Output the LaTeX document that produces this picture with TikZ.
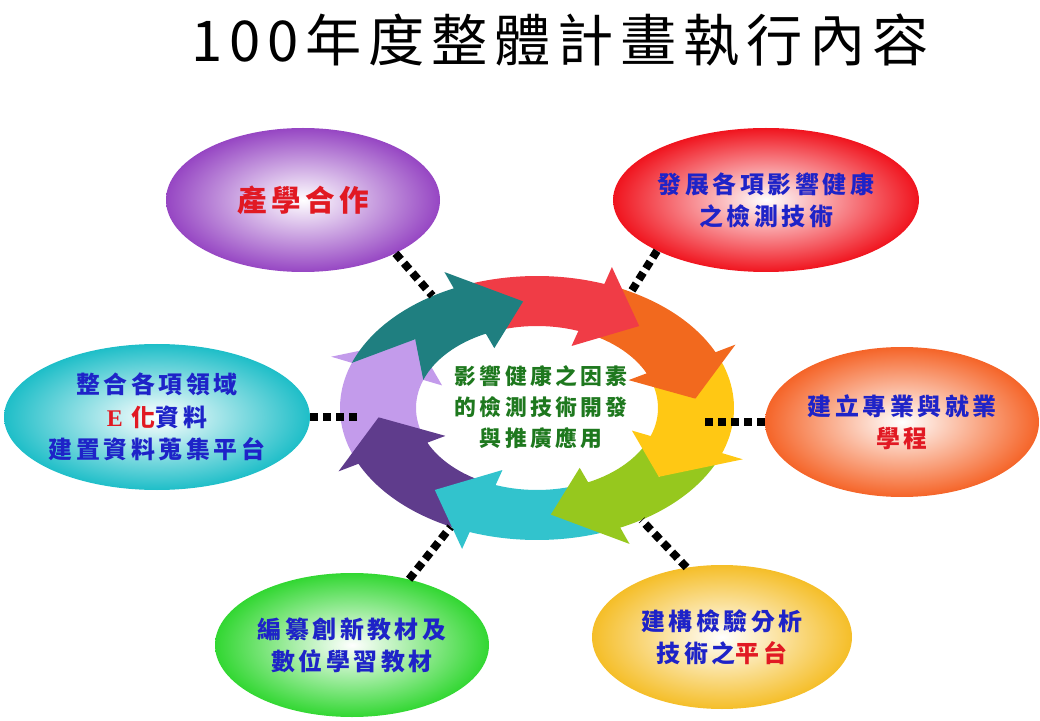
\documentclass[tikz,border=0pt]{standalone}
\usepackage{fontspec}
\usetikzlibrary{shapes.geometric}
\newfontfamily\cjk[LetterSpace=15]{Noto Sans CJK TC}
\newfontfamily\titlefont[LetterSpace=12]{Noto Sans CJK TC}
\newfontfamily\latinserif{Liberation Serif}
\definecolor{capblue}{RGB}{30,35,200}
\definecolor{capred}{RGB}{225,25,35}
\definecolor{capgreen}{RGB}{30,120,30}
\definecolor{ringteal}{RGB}{31,127,128}
\definecolor{ringred}{RGB}{240,60,70}
\definecolor{ringorange}{RGB}{242,105,30}
\definecolor{ringyellow}{RGB}{255,200,20}
\definecolor{ringgreen}{RGB}{150,200,30}
\definecolor{ringcyan}{RGB}{50,195,205}
\definecolor{ringdpurple}{RGB}{95,60,140}
\definecolor{ringlpurple}{RGB}{195,155,235}
\definecolor{bubpurple}{RGB}{150,70,195}
\definecolor{bubred}{RGB}{240,20,30}
\definecolor{buborange}{RGB}{245,100,40}
\definecolor{bubyellow}{RGB}{245,190,40}
\definecolor{bubgreen}{RGB}{50,215,50}
\definecolor{bubcyan}{RGB}{30,190,200}
% one arrow of the ring: #1 = angle of the head, #2 = colour
\newcommand{\ringarrow}[2]{%
  \pgfmathsetmacro{\tailang}{#1+45}
  \pgfmathsetmacro{\tipang}{#1-20}
  \pgfmathsetmacro{\notchang}{#1+25}
  \fill[#2] (\tailang:4.925 and 3.3)
    arc[start angle=\tailang, end angle=#1, x radius=4.925, y radius=3.3]
    -- (#1:5.475 and 3.75) -- (\tipang:3.975 and 2.675) -- (#1:2.525 and 1.65)
    -- (#1:3.025 and 2.05)
    arc[start angle=#1, end angle=\tailang, x radius=3.025, y radius=2.05]
    -- (\notchang:3.975 and 2.675) -- cycle;
}
\tikzset{
  bubble/.style={ellipse, minimum width=6.85cm, minimum height=3.6cm, inner sep=0pt,
    align=center, text=capblue, font=\cjk\bfseries\fontsize{17}{23}\selectfont},
  dotlink/.style={line width=5.7pt, dash pattern=on 5.7pt off 3.5pt},
}
\begin{document}
\begin{tikzpicture}
  \useasboundingbox (0,0) rectangle (26,18);
  \node (title) at (14.0,17.0) {\titlefont\fontsize{40}{44}\selectfont 100年度整體計畫執行內容};

  % the ring
  \begin{scope}[shift={(13.425,7.8)}]
    \ringarrow{160}{ringlpurple}
    \ringarrow{-155}{ringdpurple}
    \ringarrow{-110}{ringcyan}
    \ringarrow{-65}{ringgreen}
    \ringarrow{-20}{ringyellow}
    \ringarrow{25}{ringorange}
    \ringarrow{70}{ringred}
    \ringarrow{115}{ringteal}
  \end{scope}
  \node[ellipse, minimum width=9.85cm, minimum height=6.6cm, inner sep=0pt] (ring) at (13.425,7.8) {};
  \node[align=center, text=capgreen, font=\cjk\bfseries\fontsize{15.5}{22}\selectfont]
    (core) at (13.525,7.825) {影響健康之因素\\的檢測技術開發\\與推廣應用};

  % the six goals
  \node[bubble, inner color=white, outer color=bubpurple, text=capred,
    font=\cjk\bfseries\fontsize{21}{26}\selectfont] (coop) at (7.575,13.0) {產學合作};
  \node[bubble, minimum width=6.9cm, inner color=white, outer color=bubred]
    (tech) at (19.15,13.0) {發展各項影響健康\\之檢測技術};
  \node[bubble, minimum height=3.75cm, inner color=white, outer color=buborange]
    (prog) at (22.55,7.45) {建立專業與就業\\{\color{capred}學程}};
  \node[bubble, minimum width=6.5cm, inner color=white, outer color=bubyellow]
    (plat) at (18.05,2.075) {建構檢驗分析\\技術之{\color{capred}平台}};
  \node[bubble, inner color=white, outer color=bubgreen]
    (mat) at (8.8,1.875) {編纂創新教材及\\數位學習教材};
  \node[bubble, minimum width=6.8cm, minimum height=3.65cm, inner color=white, outer color=bubcyan]
    (data) at (3.925,7.575) {整合各項領域\\{\color{capred}{\latinserif\bfseries E} 化}資料\\建置資料蒐集平台};

  % links
  \draw[dotlink] (coop.-30) -- (ring.133);
  \draw[dotlink] (tech.-155) -- (ring.51);
  \draw[dotlink, shorten >=-0.72cm] (prog.west) -- (prog.west -| ring.east);
  \draw[dotlink] (plat.117) -- (ring.-47);
  \draw[dotlink] (mat.49) -- (ring.-126);
  \draw[dotlink, shorten >=-0.45cm] (data.east) -- (data.east -| ring.west);
\end{tikzpicture}
\end{document}
